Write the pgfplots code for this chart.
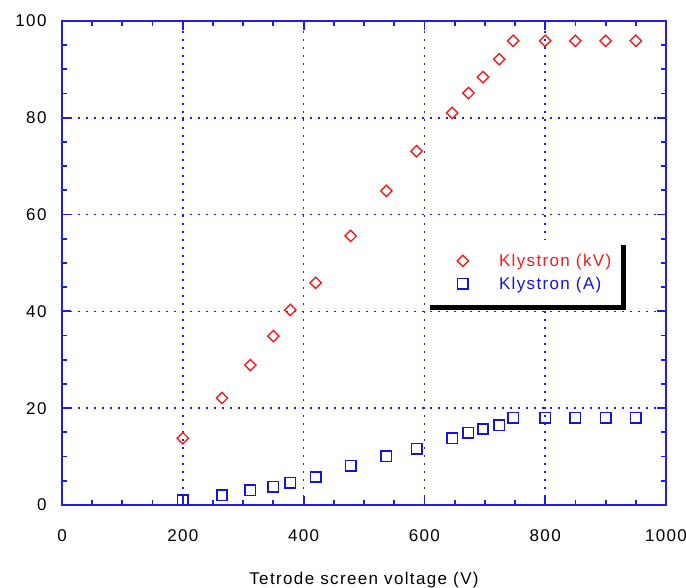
\documentclass[border=0pt]{standalone}
\usepackage{fontspec}
\setmainfont{Liberation Sans}[LetterSpace=8]
\usepackage{pgfplots}
\pgfplotsset{compat=1.18}
\usetikzlibrary{shadows}

\definecolor{axblue}{RGB}{30,30,230}
\definecolor{mkred}{RGB}{240,30,30}
\definecolor{mkblue}{RGB}{20,20,220}

\begin{document}
\begin{tikzpicture}
\begin{axis}[
    name=ax,
    scale only axis,
    width=604pt, height=484pt,
    xmin=0, xmax=1000, ymin=0, ymax=100,
    xtick={0,200,...,1000}, ytick={0,20,...,100},
    minor x tick num=3, minor y tick num=3,
    tick align=inside,
    major tick length=9pt, minor tick length=5pt,
    axis line style={axblue, line width=2pt},
    every tick/.style={axblue, line width=1.8pt},
    grid=major,
    major grid style={axblue, line width=1.6pt, dash pattern=on 1.6pt off 6.4pt},
    font=\fontsize{17}{20}\selectfont,
    /pgf/number format/assume math mode=true,
    /pgf/number format/1000 sep={},
    xticklabel style={yshift=-21pt},
    yticklabel style={xshift=-12pt},
    xlabel={Tetrode screen voltage (V)},
    xlabel style={at={(axis description cs:0.5,0)}, anchor=north, yshift=-64pt},
    legend cell align=left,
    legend image code/.code={\path (-30pt,0pt) (34pt,0pt); \draw[#1] plot coordinates {(0pt,0pt)};},
    legend style={at={(axis cs:600,54.8)}, anchor=north west, draw=none, fill=white,
        inner xsep=8pt, inner ysep=12pt, row sep=5pt,
        drop shadow={shadow xshift=5pt, shadow yshift=-5pt, fill=black, opacity=1}},
]
\addplot[only marks, mark=square, mark size=4pt, mark options={rotate=45, draw=mkred, line width=1.4pt}]
coordinates {(200,13.8) (265,22.1) (312,28.9) (350,34.9) (378,40.3) (420,45.9) (478,55.6)
(537,64.9) (587,73.1) (646,81) (673,85.1) (697,88.4) (724,92.1) (747,95.9)
(800,95.9) (850,95.9) (900,95.9) (950,95.9)};
\addlegendentry{\textcolor{mkred}{Klystron (kV)}}
\addplot[only marks, mark=square, mark size=5.2pt, mark options={draw=mkblue, line width=1.6pt}]
coordinates {(200,1) (265,2) (312,3) (350,3.8) (378,4.6) (420,5.8) (478,8.1)
(537,10.1) (587,11.6) (646,13.8) (673,14.9) (697,15.7) (724,16.5) (747,18)
(800,18) (850,18) (900,18) (950,18)};
\addlegendentry{\textcolor{mkblue}{Klystron (A)}}
\end{axis}
\pgfresetboundingbox
\useasboundingbox ([shift={(-62pt,-83pt)}]ax.south west) rectangle ([shift={(20pt,21pt)}]ax.north east);
\end{tikzpicture}
\end{document}
